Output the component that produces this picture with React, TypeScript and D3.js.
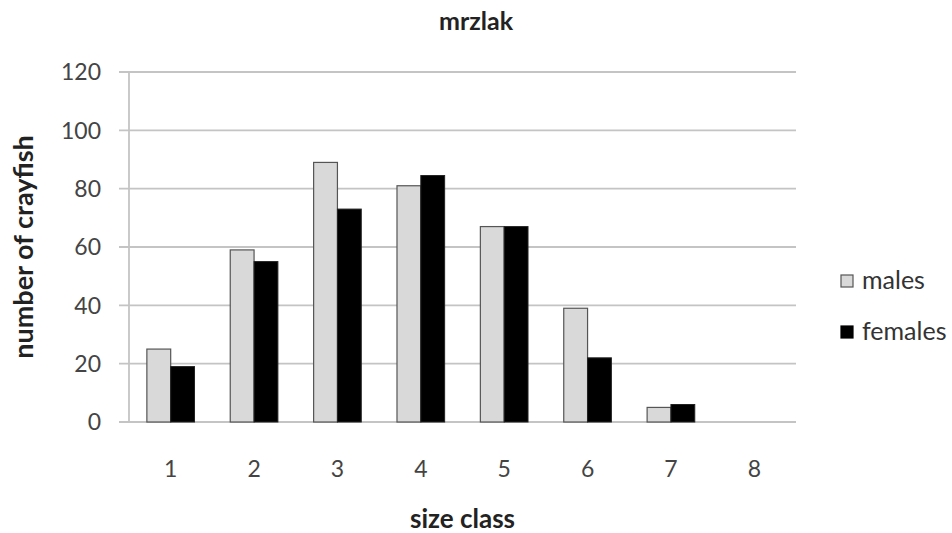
import React, { useEffect, useRef } from "react";
import * as d3 from "d3";

const sizeClasses = ["1", "2", "3", "4", "5", "6", "7", "8"];
const males = [25, 59, 89, 81, 67, 39, 5, 0];
const females = [19, 55, 73, 84.5, 67, 22, 6, 0];
const seriesNames = ["males", "females"];
const yTicks = [0, 20, 40, 60, 80, 100, 120];

const App: React.FC = () => {
  const svgRef = useRef<SVGSVGElement>(null);

  useEffect(() => {
    if (!svgRef.current) return;
    const svg = d3.select(svgRef.current);
    svg.selectAll("*").remove();

    const width = 952;
    const height = 533;
    const margin = { top: 72, right: 156, bottom: 111, left: 129 };
    const font = "Lato, 'Open Sans', sans-serif";

    const x = d3
      .scaleBand()
      .domain(sizeClasses)
      .range([margin.left, width - margin.right])
      .paddingInner(0)
      .paddingOuter(0);
    const bw = x.bandwidth() / 3.5;

    const y = d3
      .scaleLinear()
      .domain([0, 120])
      .range([height - margin.bottom, margin.top]);

    // gridlines
    svg
      .append("g")
      .selectAll("line")
      .data(yTicks)
      .enter()
      .append("line")
      .attr("x1", margin.left - 10)
      .attr("x2", width - margin.right)
      .attr("y1", (d) => y(d))
      .attr("y2", (d) => y(d))
      .attr("stroke", "#c4c4c4")
      .attr("stroke-width", 1.8);

    // y axis line
    svg
      .append("line")
      .attr("x1", margin.left)
      .attr("x2", margin.left)
      .attr("y1", y(120))
      .attr("y2", y(0))
      .attr("stroke", "#c4c4c4")
      .attr("stroke-width", 1.8);

    // y tick labels
    svg
      .append("g")
      .selectAll("text")
      .data(yTicks)
      .enter()
      .append("text")
      .attr("x", 101)
      .attr("y", (d) => y(d))
      .attr("dy", "0.36em")
      .attr("text-anchor", "end")
      .attr("font-family", font)
      .attr("font-size", 23)
      .attr("fill", "#444")
      .text((d) => d);

    // bars
    const groups = svg
      .append("g")
      .selectAll("g")
      .data(sizeClasses)
      .enter()
      .append("g")
      .attr("transform", (d) => `translate(${x(d)! + bw * 0.75},0)`);

    groups
      .append("rect")
      .attr("x", 0)
      .attr("y", (_, i) => y(males[i]))
      .attr("width", bw)
      .attr("height", (_, i) => y(0) - y(males[i]))
      .attr("fill", "#d9d9d9")
      .attr("stroke", (_, i) => (males[i] > 0 ? "#555" : "none"))
      .attr("stroke-width", 1.2);

    groups
      .append("rect")
      .attr("x", bw)
      .attr("y", (_, i) => y(females[i]))
      .attr("width", bw)
      .attr("height", (_, i) => y(0) - y(females[i]))
      .attr("fill", "#000")
      .attr("stroke", (_, i) => (females[i] > 0 ? "#222" : "none"))
      .attr("stroke-width", 1);

    // x tick labels
    svg
      .append("g")
      .selectAll("text")
      .data(sizeClasses)
      .enter()
      .append("text")
      .attr("x", (d) => x(d)! + x.bandwidth() / 2)
      .attr("y", 477)
      .attr("text-anchor", "middle")
      .attr("font-family", font)
      .attr("font-size", 23)
      .attr("fill", "#444")
      .text((d) => d);

    // titles
    svg
      .append("text")
      .attr("x", 476)
      .attr("y", 30)
      .attr("text-anchor", "middle")
      .attr("font-family", font)
      .attr("font-weight", "bold")
      .attr("font-size", 25)
      .attr("fill", "#222")
      .text("mrzlak");

    svg
      .append("text")
      .attr("x", (margin.left + width - margin.right) / 2)
      .attr("y", 528)
      .attr("text-anchor", "middle")
      .attr("font-family", font)
      .attr("font-weight", "bold")
      .attr("font-size", 26)
      .attr("fill", "#222")
      .text("size class");

    svg
      .append("text")
      .attr(
        "transform",
        `translate(33,${(y(0) + y(120)) / 2}) rotate(-90)`
      )
      .attr("text-anchor", "middle")
      .attr("font-family", font)
      .attr("font-weight", "bold")
      .attr("font-size", 27)
      .attr("fill", "#222")
      .text("number of crayfish");

    // legend
    const legend = svg
      .append("g")
      .selectAll("g")
      .data(seriesNames)
      .enter()
      .append("g")
      .attr("transform", (_, i) => `translate(841,${275 + i * 51})`);

    legend
      .append("rect")
      .attr("width", 12)
      .attr("height", 12)
      .attr("fill", (_, i) => (i === 0 ? "#d9d9d9" : "#000"))
      .attr("stroke", (_, i) => (i === 0 ? "#555" : "#000"))
      .attr("stroke-width", 1.2);

    legend
      .append("text")
      .attr("x", 21)
      .attr("y", 14)
      .attr("font-family", font)
      .attr("font-size", 25)
      .attr("fill", "#333")
      .text((d) => d);
  }, []);

  return (
    <svg
      ref={svgRef}
      width={952}
      height={533}
      style={{ position: "absolute", left: 0, top: 0, background: "#fff" }}
    ></svg>
  );
};

export default App;
